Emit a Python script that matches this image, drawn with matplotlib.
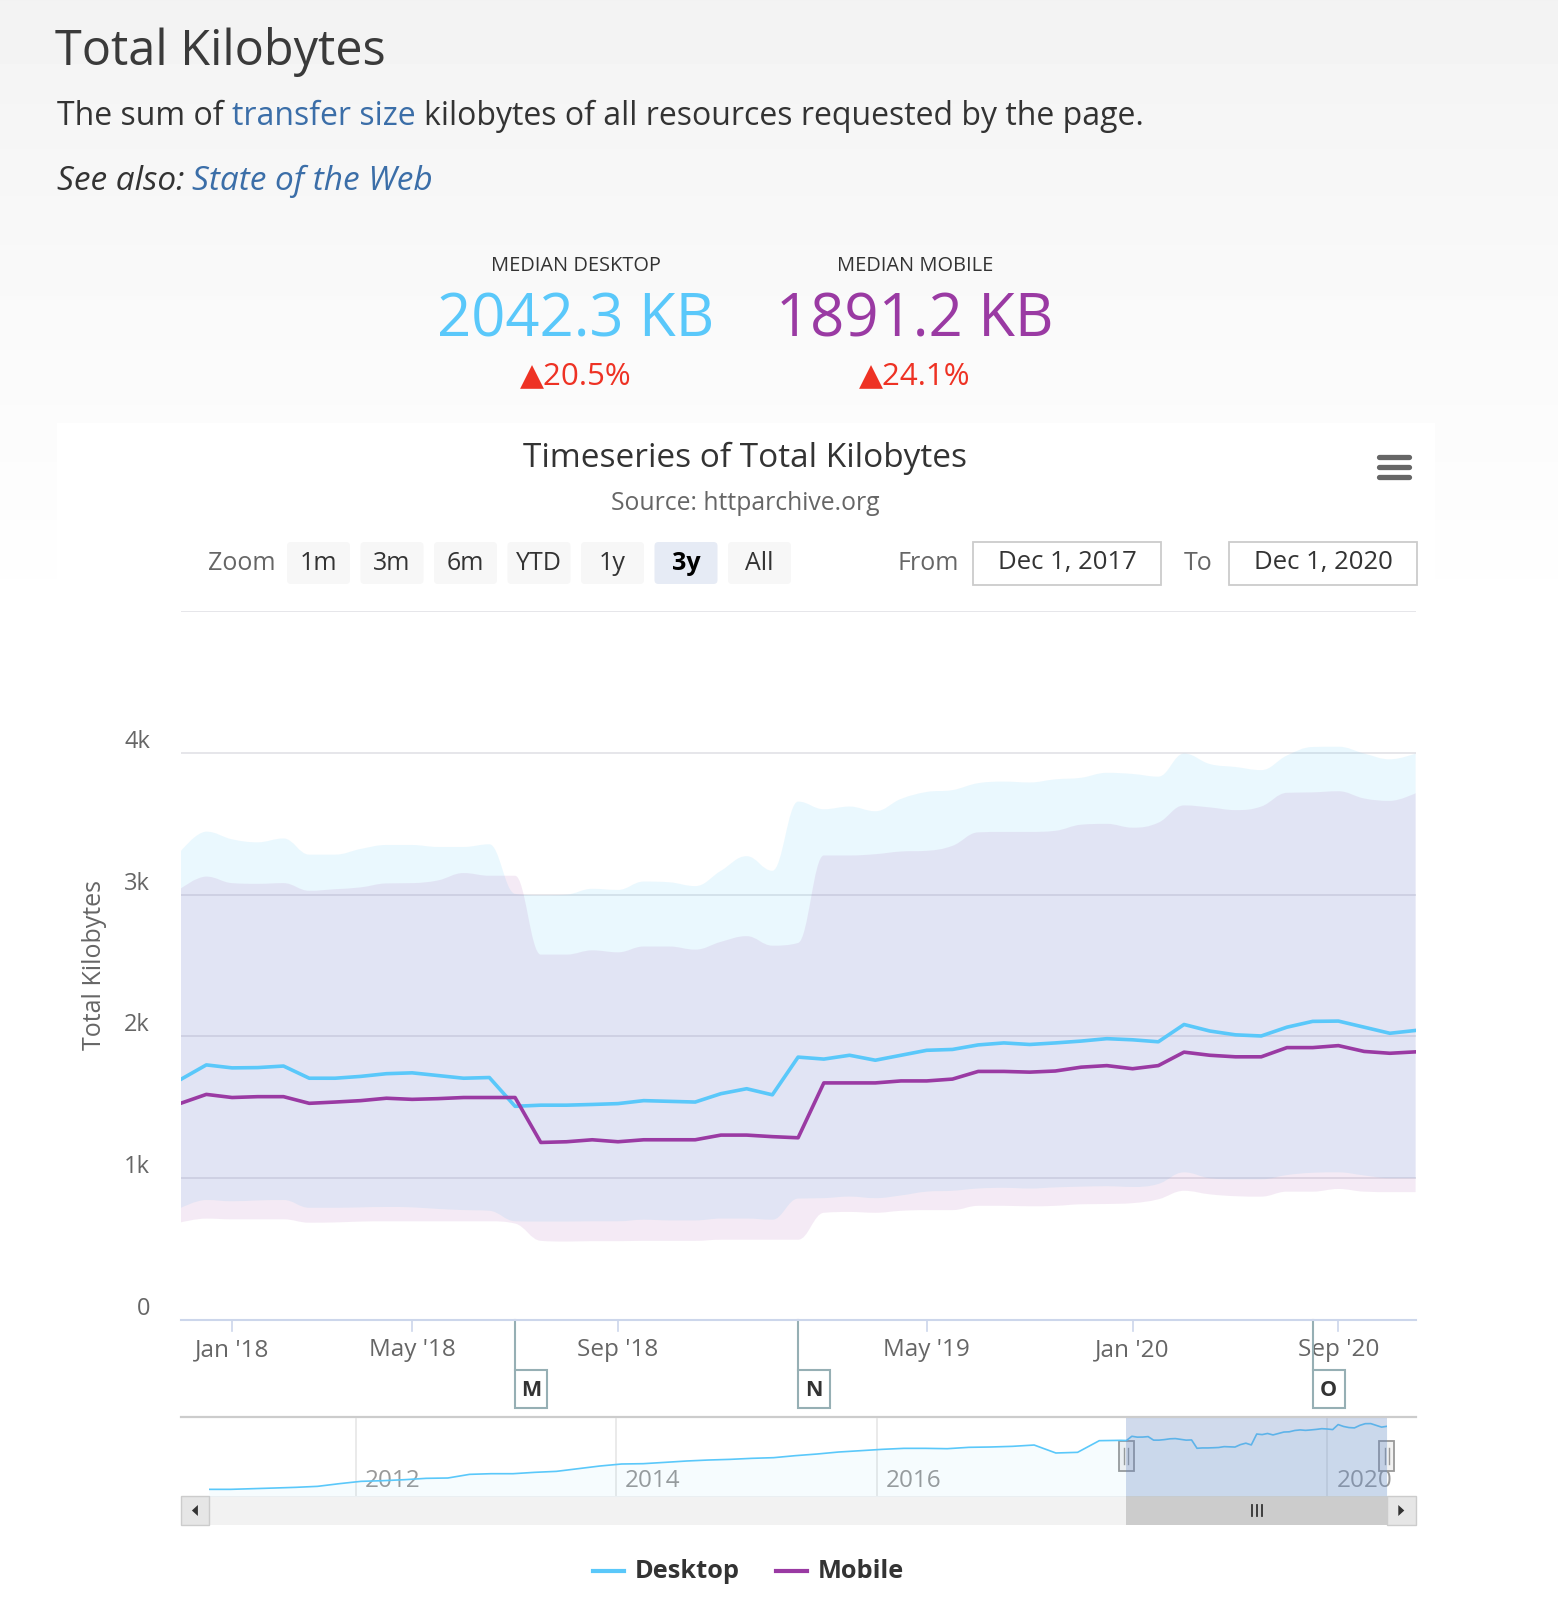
import numpy as np
import matplotlib
matplotlib.use("Agg")
import matplotlib.pyplot as plt
from matplotlib.patches import Rectangle, FancyBboxPatch, PathPatch
from matplotlib.path import Path

plt.rcParams['font.family'] = ['Open Sans', 'DejaVu Sans']

# -----------------------------
# DATA
# -----------------------------
# ordinal points, Dec 1 2017 .. Dec 1 2020 (semi-monthly in 2018, monthly after)
desktop_median = [1696, 1799, 1778, 1780, 1791, 1705, 1705, 1718, 1737, 1743, 1724, 1705, 1710,
                  1507, 1515, 1515, 1520, 1526, 1547, 1542, 1537, 1596, 1631, 1588,
                  1854, 1840, 1867, 1832, 1867, 1902, 1908, 1940, 1954, 1943, 1954, 1967, 1984,
                  1976, 1962, 2084, 2038, 2011, 2003, 2065, 2106, 2108, 2065, 2022, 2042]
mobile_median = [1528, 1591, 1569, 1575, 1575, 1528, 1537, 1547, 1564, 1556, 1561, 1569, 1569, 1569,
                 1252, 1257, 1271, 1257, 1271, 1271, 1271, 1304, 1304, 1293, 1285,
                 1672, 1672, 1672, 1686, 1686, 1699, 1753, 1753, 1748, 1756, 1783, 1794, 1772,
                 1794, 1889, 1867, 1856, 1856, 1921, 1921, 1935, 1894, 1881, 1891]
desktop_p90 = [3304, 3444, 3390, 3369, 3396, 3282, 3282, 3322, 3350, 3350, 3336, 3336, 3355,
               3005, 2995, 3000, 3041, 3033, 3092, 3087, 3060, 3168, 3271, 3168,
               3656, 3602, 3621, 3588, 3675, 3724, 3737, 3786, 3797, 3791, 3813, 3824, 3859,
               3851, 3832, 3995, 3921, 3900, 3878, 3981, 4041, 4043, 3995, 3954, 3995]
desktop_p10 = [789, 846, 837, 843, 846, 791, 791, 794, 797, 794, 783, 775, 770,
               696, 694, 694, 696, 696, 707, 702, 702, 715, 715, 707,
               856, 859, 870, 859, 878, 905, 911, 927, 932, 927, 935, 940, 943,
               938, 959, 1041, 1000, 992, 992, 1022, 1038, 1041, 1019, 1000, 1000]
mobile_p90 = [3041, 3127, 3081, 3076, 3081, 3027, 3038, 3051, 3079, 3081, 3100, 3152, 3133, 3133,
              2577, 2577, 2607, 2593, 2634, 2634, 2612, 2667, 2707, 2640, 2659,
              3276, 3276, 3285, 3304, 3309, 3344, 3439, 3442, 3442, 3450, 3493, 3499, 3472,
              3507, 3629, 3615, 3596, 3621, 3718, 3721, 3729, 3678, 3661, 3715]
mobile_p10 = [688, 715, 710, 710, 710, 686, 688, 694, 696, 696, 696, 696, 696, 680,
              558, 553, 556, 556, 558, 558, 558, 566, 566, 566, 566,
              756, 762, 756, 770, 775, 775, 805, 805, 802, 805, 816, 818, 824,
              851, 911, 886, 873, 870, 905, 905, 924, 905, 902, 902]

tick_idx = [2, 9, 17, 29, 37, 45]
tick_labels = ["Jan '18", "May '18", "Sep '18", "May '19", "Jan '20", "Sep '20"]
y_ticks = [0, 1000, 2000, 3000, 4000]
y_labels = ["0", "1k", "2k", "3k", "4k"]
flags = [(13, "M"), (24, "N"), (44, "O")]

# navigator: desktop history Nov 2010 .. Nov 2017, every 4th ordinal point
nav_early = [507, 507, 523, 539, 556, 580, 645, 702, 718, 742, 775, 783, 872, 888, 888,
             921, 945, 1010, 1075, 1124, 1132, 1164, 1197, 1221, 1237, 1262, 1278, 1327,
             1367, 1416, 1448, 1481, 1505, 1505, 1497, 1530, 1538, 1554, 1586, 1392, 1408,
             1692, 1700]
nav_step = 4
nav_years = [(27, "2012"), (75, "2014"), (123, "2016"), (206, "2020")]

zoom_buttons = ["1m", "3m", "6m", "YTD", "1y", "3y", "All"]

# -----------------------------
# STYLE
# -----------------------------
W, H = 1558, 1618
C_DESK = "#5ac8fa"
C_MOB = "#9a3aa3"
C_TEXT = "#333333"
C_GREY = "#666666"
C_LINK = "#3b6ea8"
C_RED = "#ee3224"


def rect_px(x0, y0, x1, y1):
    return [x0 / W, 1 - y1 / H, (x1 - x0) / W, (y1 - y0) / H]


def spline_path(x, y):
    # highcharts-like spline control points
    n = len(x)
    lc, rc = [], []
    for i in range(n):
        if i == 0 or i == n - 1:
            lc.append((x[i], y[i]))
            rc.append((x[i], y[i]))
            continue
        px, py = x[i], y[i]
        lx, ly = x[i - 1], y[i - 1]
        nx, ny = x[i + 1], y[i + 1]
        lcx, lcy = (1.5 * px + lx) / 2.5, (1.5 * py + ly) / 2.5
        rcx, rcy = (1.5 * px + nx) / 2.5, (1.5 * py + ny) / 2.5
        corr = 0
        if rcx != lcx:
            corr = (rcy - lcy) * (rcx - px) / (rcx - lcx) + py - rcy
        lcy += corr
        rcy += corr
        if lcy > ly and lcy > py:
            lcy = max(ly, py); rcy = 2 * py - lcy
        elif lcy < ly and lcy < py:
            lcy = min(ly, py); rcy = 2 * py - lcy
        if rcy > ny and rcy > py:
            rcy = max(ny, py); lcy = 2 * py - rcy
        elif rcy < ny and rcy < py:
            rcy = min(ny, py); lcy = 2 * py - rcy
        lc.append((lcx, lcy))
        rc.append((rcx, rcy))
    verts = [(x[0], y[0])]
    codes = [Path.MOVETO]
    for i in range(1, n):
        verts += [rc[i - 1], lc[i], (x[i], y[i])]
        codes += [Path.CURVE4] * 3
    return verts, codes


def band(ax, x, lo, hi, color, alpha):
    vu, cu = spline_path(list(x), list(hi))
    vl, cl = spline_path(list(x)[::-1], list(lo)[::-1])
    cl[0] = Path.LINETO
    verts = vu + vl + [vu[0]]
    codes = cu + cl + [Path.CLOSEPOLY]
    ax.add_patch(PathPatch(Path(verts, codes), facecolor=color, alpha=alpha,
                           edgecolor="none", zorder=2))


fig = plt.figure(figsize=(W / 100, H / 100), dpi=100)

# -----------------------------
# BACKGROUND / PAGE TEXT
# -----------------------------
bg = fig.add_axes([0, 0, 1, 1])
bg.set_xlim(0, W)
bg.set_ylim(H, 0)
bg.axis("off")
grad = np.clip(242 + 13 * np.linspace(0, 1, 640) ** 0.8, 0, 255)
grad = np.concatenate([grad, np.full(H - 640, 255)]) / 255
bg.imshow(np.tile(grad[:, None], (1, 2)), extent=[0, W, H, 0], aspect="auto",
          cmap="gray", vmin=0, vmax=1, zorder=0)
bg.add_patch(Rectangle((57, 423), 1378, H - 423, facecolor="white", edgecolor="none", zorder=1))

bg.text(55, 65, "Total Kilobytes", fontsize=35, color="#3a3a3a", va="baseline", zorder=3)

renderer = fig.canvas.get_renderer()
x0 = 57
for piece, col in [("The sum of", C_TEXT), ("transfer size", C_LINK),
                   ("kilobytes of all resources requested by the page.", C_TEXT)]:
    t = bg.text(x0, 125, piece, fontsize=23, color=col, va="baseline", zorder=3)
    x0 = t.get_window_extent(renderer).x1 + 23 * 0.26 / 0.72
x0 = 57
for piece, col in [("See also:", C_TEXT), ("State of the Web", C_LINK)]:
    t = bg.text(x0, 190, piece, fontsize=24, color=col, style="italic", va="baseline", zorder=3)
    x0 = t.get_window_extent(renderer).x1 + 24 * 0.24 / 0.72

for cx, lab, val, col, pct in [(576, "MEDIAN DESKTOP", "2042.3 KB", C_DESK, "▲20.5%"),
                               (915, "MEDIAN MOBILE", "1891.2 KB", C_MOB, "▲24.1%")]:
    bg.text(cx, 271, lab, fontsize=14.4, color=C_TEXT, ha="center", va="baseline", zorder=3)
    bg.text(cx, 336, val, fontsize=43, color=col, ha="center", va="baseline", zorder=3)
    bg.text(cx, 384, pct, fontsize=22.5, color=C_RED, ha="center", va="baseline", zorder=3)

# chart header
bg.text(745, 467, "Timeseries of Total Kilobytes", fontsize=24, color=C_TEXT,
        ha="center", va="baseline", zorder=3)
bg.text(745, 510, "Source: httparchive.org", fontsize=17.8, color=C_GREY,
        ha="center", va="baseline", zorder=3)
for yy in [456.7, 466.7, 476.7]:
    bg.plot([1379, 1409], [yy, yy], color=C_GREY, lw=3.8, solid_capstyle="round", zorder=3)

# range selector buttons
bg.text(276, 564, "Zoom", fontsize=18, color=C_GREY, ha="right", va="center", zorder=3)
bx = 287
for lab in zoom_buttons:
    sel = lab == "3y"
    bg.add_patch(FancyBboxPatch((bx, 542), 63, 42, boxstyle="round,pad=0,rounding_size=4",
                                facecolor="#e6ebf5" if sel else "#f7f7f7",
                                edgecolor="none", zorder=3))
    bg.text(bx + 31.5, 563, lab, fontsize=18, color="#000000" if sel else C_TEXT,
            weight="bold" if sel else "normal", ha="center", va="center", zorder=4)
    bx += 73.5

bg.text(928, 563, "From", fontsize=18, color=C_GREY, ha="center", va="center", zorder=3)
bg.text(1198, 563, "To", fontsize=18, color=C_GREY, ha="center", va="center", zorder=3)
for xl, lab in [(973, "Dec 1, 2017"), (1229, "Dec 1, 2020")]:
    bg.add_patch(Rectangle((xl, 542), 188, 43, facecolor="white", edgecolor="#cccccc",
                           lw=1.3, zorder=3))
    bg.text(xl + 94, 563, lab, fontsize=18.5, color=C_TEXT, ha="center", va="center", zorder=4)

# -----------------------------
# MAIN CHART
# -----------------------------
ax = fig.add_axes(rect_px(180.6, 611, 1415.6, 1320))
ax.patch.set_alpha(0)
x = np.arange(len(desktop_median))
ax.set_xlim(0, len(x) - 1)
ax.set_ylim(0, 5000)
for v in range(1000, 5001, 1000):
    ax.axhline(v, color="#e2e2e6", lw=1.2, zorder=1)

band(ax, x, desktop_p10, desktop_p90, C_DESK, 0.12)
band(ax, x, mobile_p10, mobile_p90, C_MOB, 0.10)
ax.plot(x, desktop_median, color=C_DESK, lw=2.6, zorder=4, solid_joinstyle="round")
ax.plot(x, mobile_median, color=C_MOB, lw=2.6, zorder=4, solid_joinstyle="round")

for s in ["top", "right", "left"]:
    ax.spines[s].set_visible(False)
ax.spines["bottom"].set_color("#ccd6eb")
ax.spines["bottom"].set_linewidth(1.5)
ax.set_xticks([])
ax.set_yticks([])

fig.canvas.draw()


def xpx(a, v):
    return a.transData.transform((v, 0))[0]


def ypx(a, v):
    return H - a.transData.transform((0, v))[1]


for v, lab in zip(y_ticks, y_labels):
    bg.text(150, ypx(ax, v) - 11, lab, fontsize=17, color=C_GREY, ha="right", va="center", zorder=5)
bg.text(95, 965, "Total Kilobytes", fontsize=18, color=C_GREY, rotation=90,
        ha="center", va="center", zorder=5)

for i, lab in zip(tick_idx, tick_labels):
    xp = xpx(ax, i)
    bg.plot([xp, xp], [1320, 1331], color="#ccd6eb", lw=1.2, zorder=5)
    bg.text(xp, 1350, lab, fontsize=17.5, color=C_GREY, ha="center", va="center", zorder=5)

for i, lab in flags:
    xp = xpx(ax, i)
    bg.plot([xp, xp], [1320, 1370], color="#96afb4", lw=1.5, zorder=5)
    bg.add_patch(Rectangle((xp, 1370), 32, 38, facecolor="white", edgecolor="#96afb4",
                           lw=1.5, zorder=5))
    bg.text(xp + 16, 1390, lab, fontsize=15.5, weight="bold", color=C_TEXT,
            ha="center", va="center", zorder=6)

# -----------------------------
# NAVIGATOR + SCROLLBAR
# -----------------------------
bg.plot([180.6, 1415.6], [1417, 1417], color="#cccccc", lw=1.6, zorder=5)
nav = fig.add_axes(rect_px(209, 1418, 1387, 1496))
nav.patch.set_alpha(0)
nav_x = list(np.arange(len(nav_early)) * nav_step) + list(len(nav_early) * nav_step - nav_step + 1 + x)
nav_y = nav_early + desktop_median
nav.set_xlim(0, nav_x[-1])
nav.set_ylim(345, 2244)
sel0 = nav_x[len(nav_early)]
for xi, lab in nav_years:
    nav.axvline(xi, color="#e6e6e6", lw=1.2, zorder=1)
nav.fill_between(nav_x, nav_y, 0, color=C_DESK, alpha=0.05, lw=0, zorder=2)
nav.plot(nav_x, nav_y, color=C_DESK, lw=1.2, zorder=3)
nav.axvspan(sel0, nav_x[-1], color=(102 / 255, 133 / 255, 194 / 255), alpha=0.3, lw=0, zorder=4)
nav.axis("off")
fig.canvas.draw()
for xi, lab in nav_years:
    bg.text(xpx(nav, xi) + 9, 1487, lab, fontsize=17.5, color="#999999", ha="left",
            va="baseline", zorder=2)

s0, s1 = xpx(nav, sel0), xpx(nav, nav_x[-1])
# scrollbar
bg.add_patch(Rectangle((180.6, 1496), 1235, 29, facecolor="#f2f2f2", edgecolor="none", zorder=5))
bg.add_patch(Rectangle((s0, 1496), s1 - s0, 29, facecolor="#cccccc", edgecolor="none", zorder=6))
for dx in [-5, 0, 5]:
    bg.plot([(s0 + s1) / 2 + dx] * 2, [1505, 1516], color=C_TEXT, lw=1.3, zorder=7)
for bx0, direc in [(180.6, -1), (1387, 1)]:
    bg.add_patch(Rectangle((bx0, 1496), 28.6, 29, facecolor="#e6e6e6", edgecolor="#cccccc",
                           lw=1, zorder=6))
    cx = bx0 + 14.3
    bg.add_patch(plt.Polygon([(cx - 3 * direc, 1505), (cx - 3 * direc, 1516), (cx + 3 * direc, 1510.5)],
                             facecolor=C_TEXT, edgecolor="none", zorder=7))
# handles
for hx in [s0, s1]:
    bg.add_patch(Rectangle((hx - 7.5, 1441), 15, 30, facecolor="#f2f2f2", edgecolor="#999999",
                           lw=1.3, zorder=7))
    for dx in [-2, 2]:
        bg.plot([hx + dx, hx + dx], [1448, 1464], color="#999999", lw=1, zorder=8)

# -----------------------------
# LEGEND
# -----------------------------
for lx, lab, col in [(593, "Desktop", C_DESK), (776, "Mobile", C_MOB)]:
    bg.plot([lx, lx + 31], [1571, 1571], color=col, lw=3, zorder=5)
    bg.text(lx + 42, 1571, lab, fontsize=18.3, weight="bold", color=C_TEXT, ha="left",
            va="center", zorder=5)

fig.savefig("out.png", dpi=100)
